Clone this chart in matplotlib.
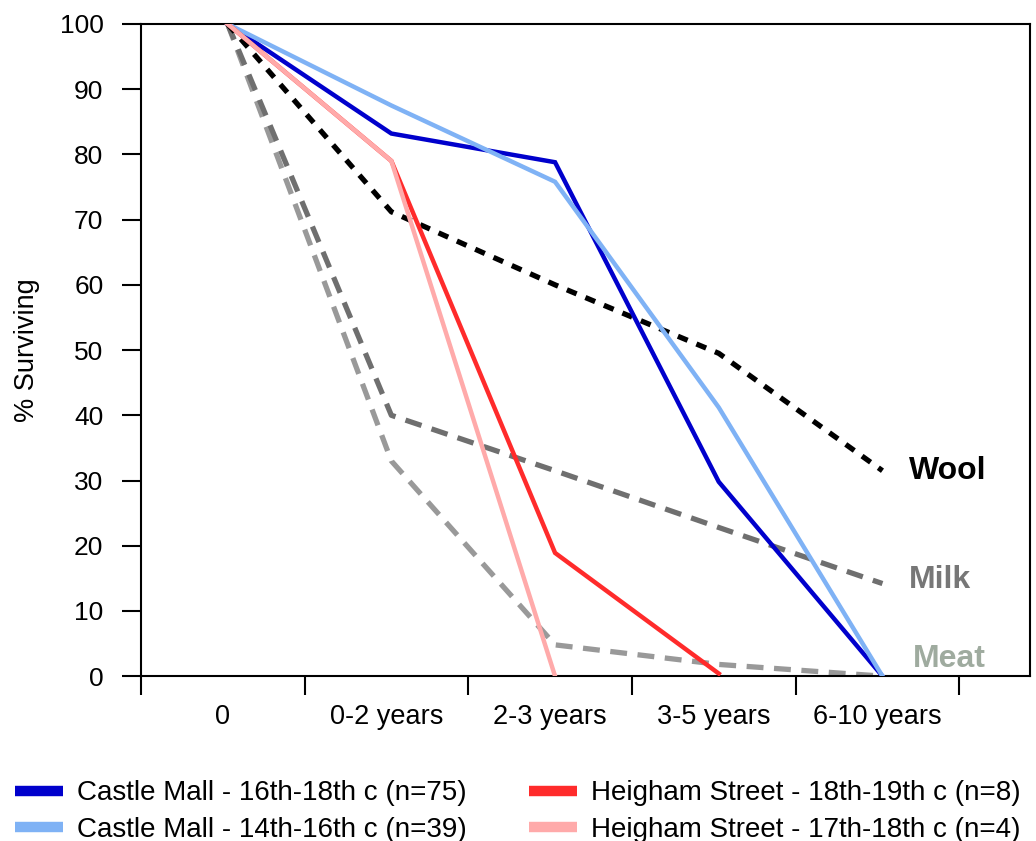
import matplotlib
matplotlib.use("Agg")
import matplotlib.pyplot as plt
from matplotlib.lines import Line2D

plt.rcParams['font.family'] = ['Liberation Sans', 'DejaVu Sans']

# age classes on the x axis
ageClasses = ["0", "0-2 years", "2-3 years", "3-5 years", "6-10 years"]

# survivorship (%) per assemblage
castle1618 = [100, 83.2, 78.8, 29.8, 0]
castle1416 = [100, 87.5, 75.8, 41.2, 0]
heigham1819 = [100, 79.0, 18.9, 0.4]
heigham1718 = [100, 79.0, 0]

# Payne model curves
wool = [100, 71.2, 60.0, 49.5, 31.5]
milk = [100, 40.0, 31.5, 22.8, 14.2]
meat = [100, 33.0, 4.8, 1.8, 0]

seriesLabels = [
    "Castle Mall - 16th-18th c (n=75)",
    "Castle Mall - 14th-16th c (n=39)",
    "Heigham Street - 18th-19th c (n=8)",
    "Heigham Street - 17th-18th c (n=4)",
]
seriesColors = ["#0000cc", "#7fb2f5", "#ff2b2b", "#ffaaaa"]

fig = plt.figure(figsize=(10.36, 8.41), dpi=100)
ax = fig.add_axes([0.136, 0.196, 0.858, 0.7755])

x = range(len(ageClasses))

# model curves underneath
ax.plot(x, meat, color="#999999", lw=3.8, dashes=(3.2, 2.0), zorder=2)
ax.plot(x, milk, color="#6f6f6f", lw=3.8, dashes=(3.2, 2.0), zorder=2)
ax.plot(x, wool, color="black", lw=3.8, dashes=(2.0, 1.8), zorder=3)

dataSeries = [castle1618, castle1416, heigham1819, heigham1718]
for vals, col in zip(dataSeries, seriesColors):
    ax.plot(range(len(vals)), vals, color=col, lw=3.2, zorder=4,
            solid_joinstyle="miter")

# curve names at the right-hand end
ax.text(4.16, wool[-1], "Wool", fontsize=23, fontweight="bold",
        color="black", va="center")
ax.text(4.16, milk[-1] + 0.5, "Milk", fontsize=23, fontweight="bold",
        color="#777777", va="center")
ax.text(4.185, meat[-1] + 2.7, "Meat", fontsize=23, fontweight="bold",
        color="#9fab9f", va="center")

ax.set_xlim(-0.53, 4.9)
ax.set_ylim(0, 100)
ax.set_yticks(range(0, 101, 10))
ax.tick_params(axis="y", direction="out", length=14, width=1.5,
               labelsize=19, pad=13)

# category boundaries as major ticks, names as minor ticks
ax.set_xticks([i + 0.47 - 1 for i in range(len(ageClasses) + 1)])
ax.set_xticklabels([])
ax.set_xticks([i - 0.03 for i in x], minor=True)
ax.set_xticklabels(ageClasses, minor=True)
ax.tick_params(axis="x", which="major", direction="out", length=14,
               width=1.5)
ax.tick_params(axis="x", which="minor", length=0, labelsize=19.5, pad=20)

for sp in ax.spines.values():
    sp.set_linewidth(1.5)

ax.set_ylabel("% Surviving", fontsize=19.5, labelpad=14)

handles = [Line2D([], [], color=c, lw=7.5, solid_capstyle="butt")
           for c in seriesColors]
fig.legend(handles, seriesLabels, ncol=2, loc="upper left",
           bbox_to_anchor=(0.0145, 0.072), frameon=False,
           prop={"size": 20},
           handlelength=1.73, handletextpad=0.5, columnspacing=2.25,
           labelspacing=0.38, borderaxespad=0, borderpad=0)

fig.savefig("out.png", dpi=100)
